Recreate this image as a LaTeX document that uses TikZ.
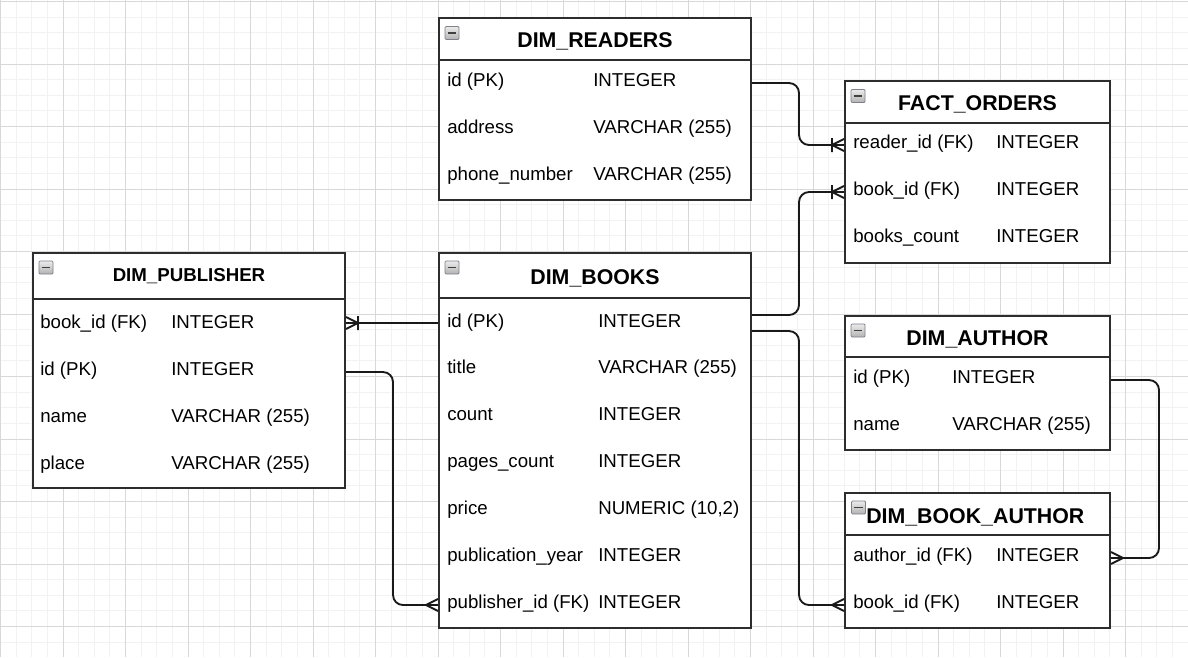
\documentclass[tikz,border=0pt]{standalone}
\usepackage{fontspec}
\setmainfont{Liberation Sans}
\usepackage{xcolor}
\usetikzlibrary{positioning,calc,fit}

\definecolor{gridminor}{RGB}{242,242,242}
\definecolor{gridmajor}{RGB}{216,216,216}
\definecolor{tblline}{RGB}{45,45,45}
\definecolor{iconline}{RGB}{128,128,140}

\begin{document}
\begin{tikzpicture}[
  x=0.75pt, y=-0.75pt,
  tbl/.style={draw=tblline, line width=1.5pt, fill=white, inner sep=0pt},
  sep/.style={draw=tblline, line width=1.2pt},
  title/.style={font=\bfseries\fontsize{16}{18}\selectfont, text height=11.5pt, text depth=0pt, inner sep=0pt},
  field/.style={anchor=west, font=\fontsize{14}{16}\selectfont, text height=10pt, text depth=4.5pt, inner sep=0pt},
  tglicon/.style={draw=iconline, line width=0.6pt, top color=black!8, bottom color=black!30, rounded corners=0.8pt,
    minimum width=10.5pt, minimum height=9.75pt, inner sep=0pt,
    path picture={\draw[black!75, line width=1.1pt] ([xshift=2.2pt]path picture bounding box.west) -- ([xshift=-2.2pt]path picture bounding box.east);}},
  rel/.style={draw=black!90, line width=1.4pt, rounded corners=7.5pt},
  crowmany/.pic={\draw[rel, sharp corners] (-12,0) -- (0,6) (-12,0) -- (0,-6);},
  crowone/.pic={\draw[rel, sharp corners] (-12,0) -- (0,6) (-12,0) -- (0,-6) (-12,-7) -- (-12,7);}
]
\useasboundingbox (0,0) rectangle (1188,657);
% grid
\fill[white] (0,0) rectangle (1188,657);
\foreach \i in {0,...,76} \draw[gridminor, line width=0.75pt] (\i*15.625+0.5,0) -- ++(0,657);
\foreach \i in {0,...,41} \draw[gridminor, line width=0.75pt] (0,\i*15.625+1.5) -- ++(1188,0);
\foreach \i in {0,...,19} \draw[gridmajor, line width=0.75pt] (\i*62.5+0.5,0) -- ++(0,657);
\foreach \i in {0,...,10} \draw[gridmajor, line width=0.75pt] (0,\i*62.5+1.5) -- ++(1188,0);

% DIM_READERS
\node[tbl, fit={(439,18) (751,200)}] (readers) {};
\draw[sep] (439,60) -- (751,60);
\node[tglicon] (readers-tgl) at (452,33) {};
\node[title] (readers-title) at (595,40) {DIM\_READERS};
\foreach \n/\nm/\ty/\y in {id/id (PK)/INTEGER/83, addr/address/VARCHAR (255)/130, phone/phone\_number/VARCHAR (255)/177}{
  \node[field] (readers-\n) at (447,\y) {\nm};
  \node[field] (readers-\n-t) at (593,\y) {\ty};
}

% FACT_ORDERS
\node[tbl, fit={(845,81) (1110,263)}] (orders) {};
\draw[sep] (845,123) -- (1110,123);
\node[tglicon] (orders-tgl) at (858,96) {};
\node[title] (orders-title) at (977.5,103) {FACT\_ORDERS};
\foreach \n/\nm/\y in {reader/reader\_id (FK)/145, book/book\_id (FK)/192, count/books\_count/239}{
  \node[field] (orders-\n) at (853,\y) {\nm};
  \node[field] (orders-\n-t) at (996,\y) {INTEGER};
}

% DIM_PUBLISHER
\node[tbl, fit={(33,253) (345,488)}] (publisher) {};
\draw[sep] (33,299) -- (345,299);
\node[tglicon] (publisher-tgl) at (46,267.5) {};
\node[title, font=\bfseries\fontsize{14}{16}\selectfont, text height=10pt] (publisher-title) at (189,275) {DIM\_PUBLISHER};
\foreach \n/\nm/\ty/\y in {book/book\_id (FK)/INTEGER/325, id/id (PK)/INTEGER/372, name/name/VARCHAR (255)/419, place/place/VARCHAR (255)/466}{
  \node[field] (pub-\n) at (40,\y) {\nm};
  \node[field] (pub-\n-t) at (171,\y) {\ty};
}

% DIM_BOOKS
\node[tbl, fit={(439,253) (751,628)}] (books) {};
\draw[sep] (439,298) -- (751,298);
\node[tglicon] (books-tgl) at (452,267.5) {};
\node[title] (books-title) at (595,277) {DIM\_BOOKS};
\foreach \n/\nm/\ty/\y in {id/id (PK)/INTEGER/324, title/title/VARCHAR (255)/370, count/count/INTEGER/417,
    pages/pages\_count/INTEGER/464, price/price/{NUMERIC (10,2)}/511, year/publication\_year/INTEGER/558,
    pubid/publisher\_id (FK)/INTEGER/605}{
  \node[field] (books-\n) at (447,\y) {\nm};
  \node[field] (books-\n-t) at (598,\y) {\ty};
}

% DIM_AUTHOR
\node[tbl, fit={(845,316) (1110,450)}] (author) {};
\draw[sep] (845,357) -- (1110,357);
\node[tglicon] (author-tgl) at (858,330.5) {};
\node[title] (author-title) at (977.5,337.5) {DIM\_AUTHOR};
\foreach \n/\nm/\ty/\y in {id/id (PK)/INTEGER/380, name/name/VARCHAR (255)/427}{
  \node[field] (author-\n) at (853,\y) {\nm};
  \node[field] (author-\n-t) at (952,\y) {\ty};
}

% DIM_BOOK_AUTHOR
\node[tbl, fit={(845,493) (1110,628)}] (bookauthor) {};
\draw[sep] (845,535) -- (1110,535);
\node[tglicon] (ba-tgl) at (858.5,507.5) {};
\node[title, anchor=west] (ba-title) at (866,515.5) {DIM\_BOOK\_AUTHOR};
\foreach \n/\nm/\y in {author/author\_id (FK)/558, book/book\_id (FK)/605}{
  \node[field] (ba-\n) at (853,\y) {\nm};
  \node[field] (ba-\n-t) at (996,\y) {INTEGER};
}

% relations
\draw[rel] (readers.east |- readers-id) -- ++(47,0) |- (orders.west |- orders-reader);
\path (orders.west |- orders-reader) pic{crowone};
\draw[rel] ($(books.east |- books-id)+(0,-9)$) -- ++(47,0) |- (orders.west |- orders-book);
\path (orders.west |- orders-book) pic{crowone};
\draw[rel] ($(books.east |- books-id)+(0,7)$) -- ++(47,0) |- (bookauthor.west |- ba-book);
\path (bookauthor.west |- ba-book) pic{crowmany};
\draw[rel] (books.west |- 0,323) -- (publisher.east |- 0,323);
\path (publisher.east |- 0,323) pic[rotate=180]{crowone};
\draw[rel] (publisher.east |- pub-id) -- ++(47,0) |- (books.west |- books-pubid);
\path (books.west |- books-pubid) pic{crowmany};
\draw[rel] (author.east |- author-id) -- ++(48,0) |- (bookauthor.east |- ba-author);
\path (bookauthor.east |- ba-author) pic[rotate=180]{crowmany};
\end{tikzpicture}
\end{document}
